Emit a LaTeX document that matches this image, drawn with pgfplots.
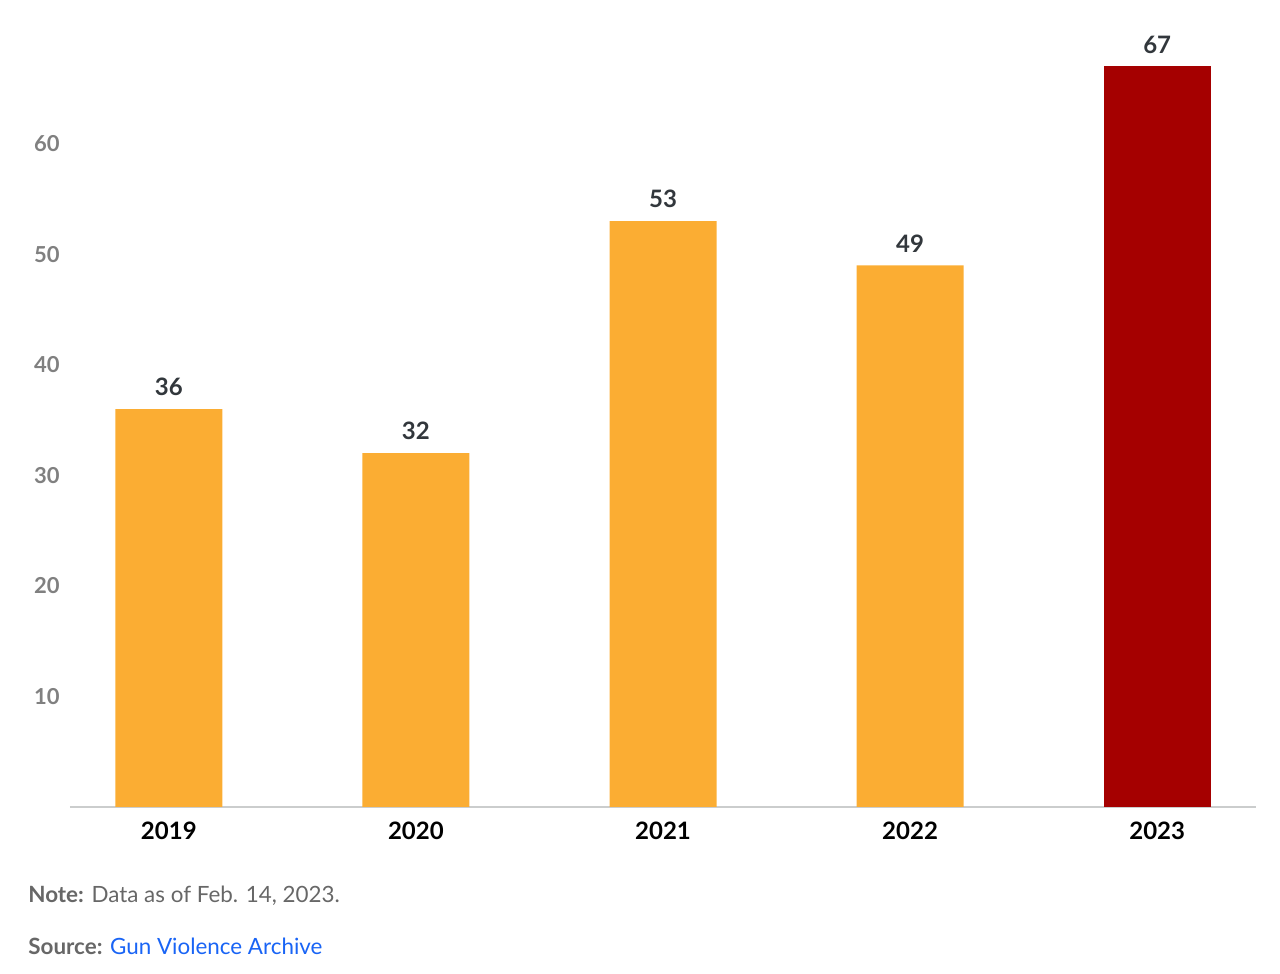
\documentclass[border=0pt]{standalone}
\usepackage{pgfplots}
\pgfplotsset{compat=1.18}
\usepackage{fontspec}
\setmainfont{Lato}
\definecolor{barorange}{RGB}{251,173,51}
\definecolor{barred}{RGB}{165,0,0}
\definecolor{ticktxt}{RGB}{128,128,128}
\definecolor{valtxt}{RGB}{50,55,60}
\definecolor{gridc}{RGB}{222,224,224}
\definecolor{linkblue}{RGB}{25,100,245}
\begin{document}
\begin{tikzpicture}
\useasboundingbox (-35pt,-83.5pt) rectangle (605pt,403.5pt);
\begin{axis}[
    scale only axis,
    width=593pt, height=403.5pt,
    xmin=-0.4, xmax=4.4,
    ymin=0, ymax=73,
    /pgf/number format/assume math mode=true,
    axis x line*=bottom,
    axis y line=none,
    x axis line style={draw=gridc!80!gray, line width=0.8pt},
    xtick={0,1,2,3,4},
    xticklabels={2019,2020,2021,2022,2023},
    xticklabel style={font=\fontsize{12}{14}\selectfont\bfseries, text=black, yshift=-4pt},
    xtick style={draw=none},
    major tick length=0pt,
    ytick={10,20,30,40,50,60},
    ymajorgrids,
    grid style={draw=gridc, line width=0.8pt},
    clip=false,
    every node near coord/.append style={font=\fontsize{12}{14}\selectfont\bfseries, text=valtxt, anchor=south, yshift=3pt},
]
\addplot[ybar, bar width=53.5pt, bar shift=0pt, fill=barorange, draw=none, nodes near coords]
    coordinates {(0,36) (1,32) (2,53) (3,49)};
\addplot[ybar, bar width=53.5pt, bar shift=0pt, fill=barred, draw=none, nodes near coords]
    coordinates {(4,67)};
\foreach \v in {10,20,30,40,50,60} {
    \edef\temp{\noexpand\node[anchor=east, inner sep=0pt, text=ticktxt, font=\noexpand\fontsize{11}{12}\noexpand\selectfont\noexpand\bfseries] at (axis cs:-0.4,\v) [xshift=-5pt] {\v};}
    \temp
}
\end{axis}
\node[anchor=west, inner sep=0pt, font=\fontsize{11.2}{13}\selectfont, text=ticktxt!80!black] at (-21pt,-44.5pt) {\textbf{Note:} Data as of Feb. 14, 2023.};
\node[anchor=west, inner sep=0pt, font=\fontsize{11.2}{13}\selectfont, text=ticktxt!80!black] at (-21pt,-69.5pt) {\textbf{Source:} \textcolor{linkblue}{Gun Violence Archive}};
\end{tikzpicture}
\end{document}
